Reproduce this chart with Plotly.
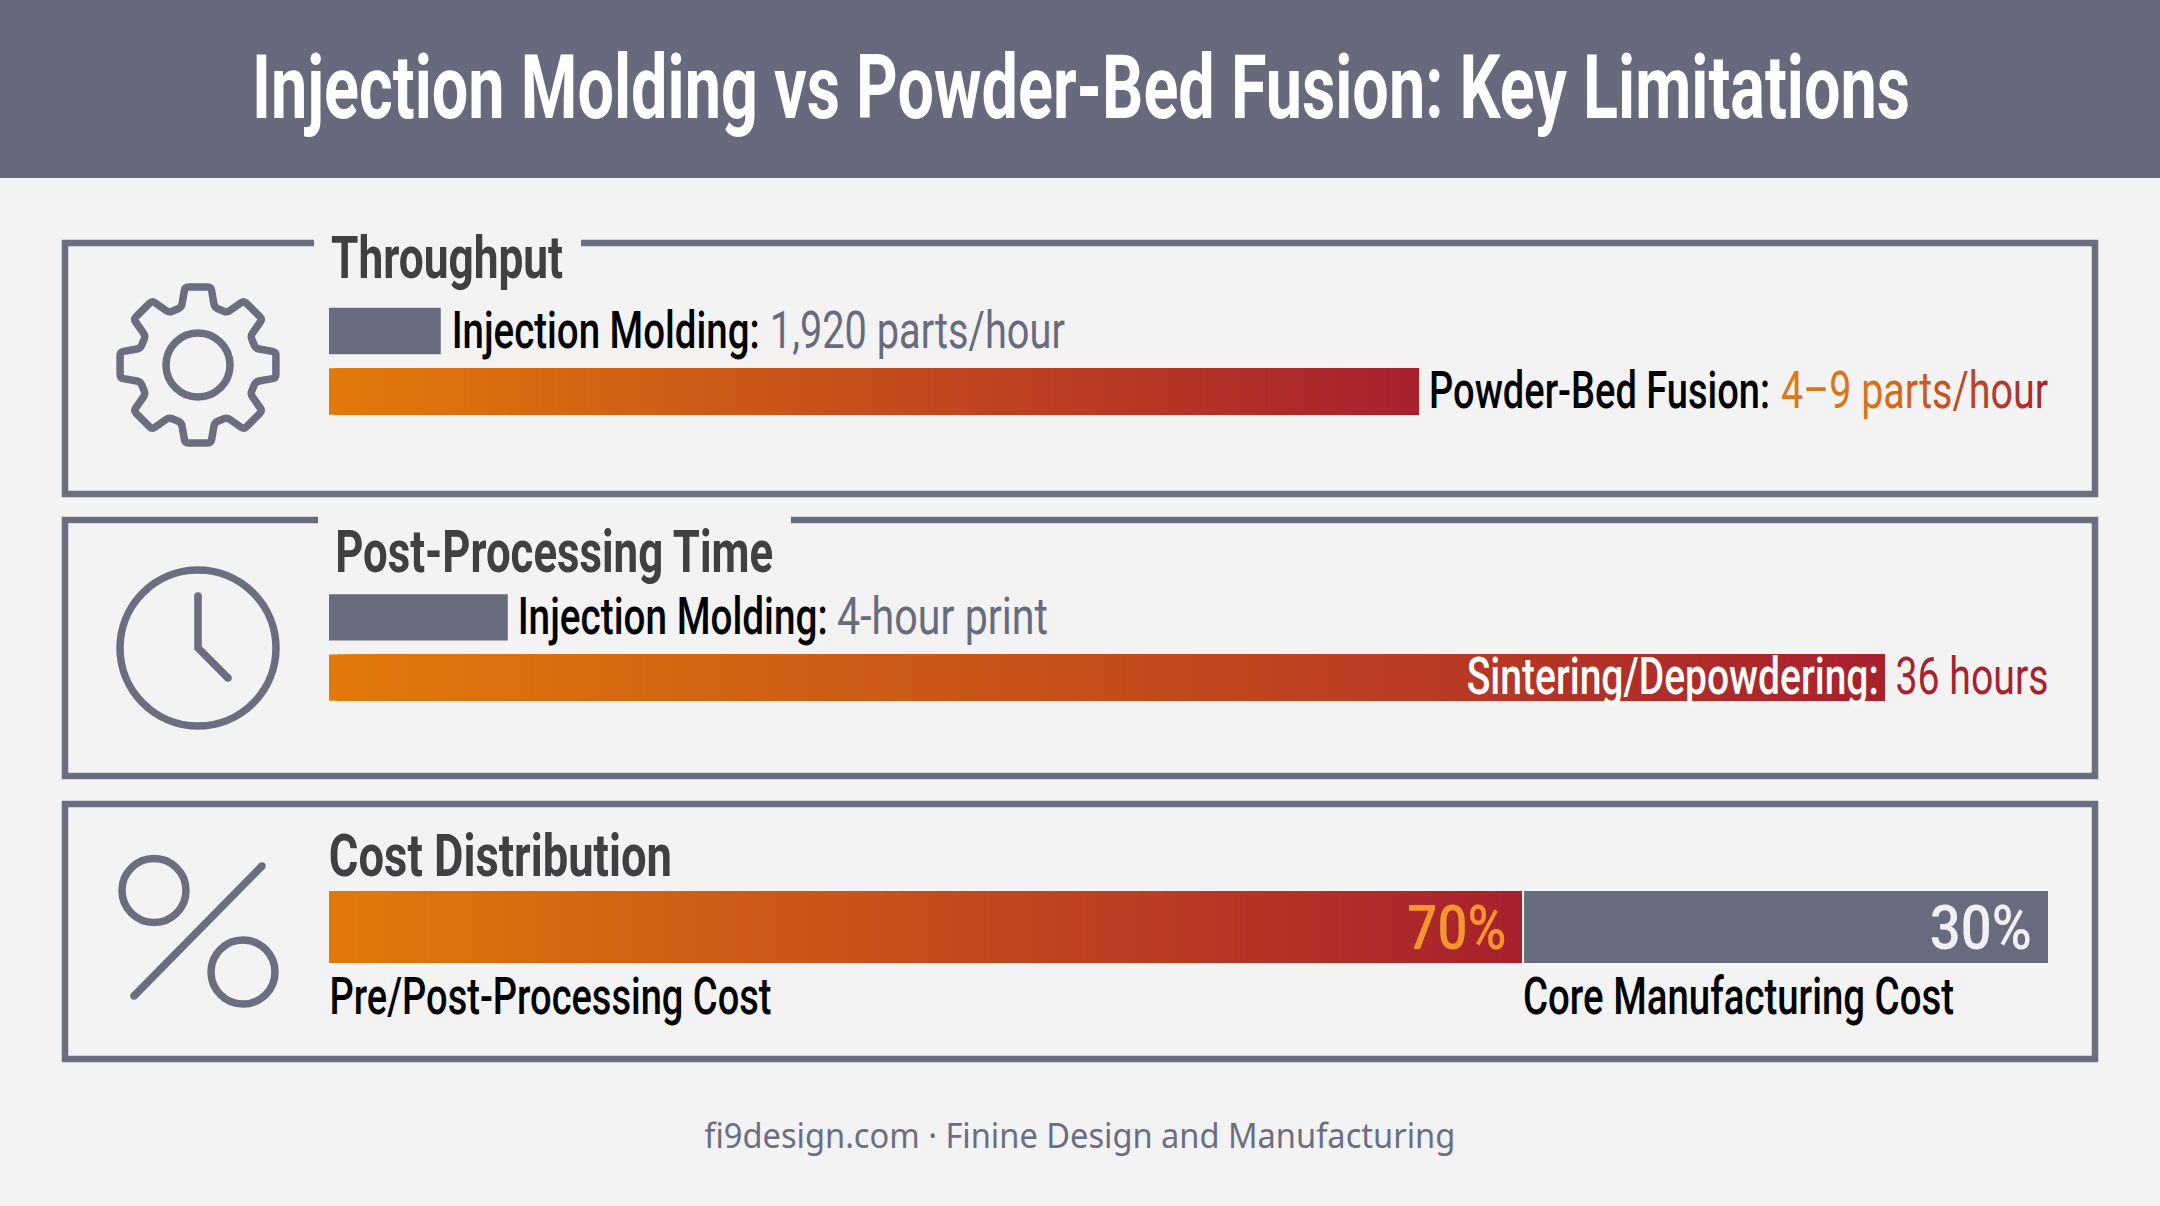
import json
import math
import numpy as np
import plotly.graph_objects as go

W, H = 2160, 1206
TITLE = "Injection Molding vs Powder-Bed Fusion: Key Limitations"
FOOTER = "fi9design.com · Finine Design and Manufacturing"

# Bar lengths, as a percentage of the common bar track
throughput_categories = ["Injection Molding", "Powder-Bed Fusion"]
throughput_lengths = [6.5, 63.4]
throughput_values = ["1,920 parts/hour", "4–9 parts/hour"]
post_categories = ["Injection Molding", "Sintering/Depowdering"]
post_lengths = [10.4, 90.5]
post_values = ["4-hour print", "36 hours"]
cost_categories = ["Pre/Post-Processing Cost", "Core Manufacturing Cost"]
cost_lengths = [69.35, 30.48]
cost_starts = [0, 69.52]
cost_labels = ["70%", "30%"]

BG = "#f3f3f4"
SLATE = "#686b7d"
FRAME = "#6b6e80"
RED = "#a8212e"
HEAD = "#404042"
FONT = "Roboto"
TRACK = (329, 2048)


def px(x):
    return x / W


def py(y):
    return 1 - y / H


def mix(t):
    a, b = (225, 122, 10), (167, 33, 46)
    return "#%02x%02x%02x" % tuple(round(p + (q - p) * t) for p, q in zip(a, b))


def gradient_bar(cat, length, xa, ya, width):
    """One bar, painted as overlapping strips that run from orange to red."""
    n = 200
    starts = np.linspace(0, length, n + 1)[:-1]
    return go.Bar(
        y=[cat] * n, x=length - starts, base=starts, orientation="h", width=width,
        marker=dict(color=[mix((i + 0.5) / n) for i in range(n)], line=dict(width=0)),
        xaxis=xa, yaxis=ya, hoverinfo="skip", showlegend=False,
    )


def solid_bar(cat, length, start, xa, ya, width):
    return go.Bar(
        y=[cat], x=[length], base=[start], orientation="h", width=width,
        marker=dict(color=SLATE, line=dict(width=0)),
        xaxis=xa, yaxis=ya, hoverinfo="skip", showlegend=False,
    )


BAR_W = 0.77
fig = go.Figure()
fig.add_trace(solid_bar(throughput_categories[0], throughput_lengths[0], 0, "x", "y", BAR_W))
fig.add_trace(gradient_bar(throughput_categories[1], throughput_lengths[1], "x", "y", BAR_W))
fig.add_trace(solid_bar(post_categories[0], post_lengths[0], 0, "x2", "y2", BAR_W))
fig.add_trace(gradient_bar(post_categories[1], post_lengths[1], "x2", "y2", BAR_W))
fig.add_trace(gradient_bar(cost_categories[0], cost_lengths[0], "x3", "y3", 1))
fig.add_trace(solid_bar(cost_categories[0], cost_lengths[1], cost_starts[1], "x3", "y3", 1))


def yaxis_for(top, bottom, cats, xname):
    n = len(cats)
    return dict(domain=[py(bottom), py(top)], range=[n - 0.5, -0.5], type="category",
                categoryorder="array", categoryarray=cats, visible=False, fixedrange=True, anchor=xname)


def xaxis_for(yname):
    return dict(domain=[px(TRACK[0]), px(TRACK[1])], range=[0, 100], visible=False,
                fixedrange=True, anchor=yname)


shapes = []


def sline(d, color=FRAME, width=6.5, fill=None):
    shapes.append(dict(type="path", path=d, xref="paper", yref="paper", layer="below",
                       line=dict(color=color, width=width), fillcolor=fill or "rgba(0,0,0,0)"))


def P(x, y):
    return f"{px(x):.6f},{py(y):.6f}"


def circle(cx, cy, r, width=7.5, fill=None, color=FRAME):
    shapes.append(dict(type="circle", xref="paper", yref="paper", layer="below",
                       x0=px(cx - r), x1=px(cx + r), y0=py(cy + r), y1=py(cy - r),
                       line=dict(color=color, width=width), fillcolor=fill or "rgba(0,0,0,0)"))


def stroke_round(pts, width=7.5):
    sline("M" + " L".join(P(*p) for p in pts), width=width)
    for x, y in (pts[0], pts[-1]):
        circle(x, y, width / 2, width=0, fill=FRAME)


def frame(top, bottom, gap):
    left, right = 65, 2095
    if gap:
        pts = [(gap[0], top), (left, top), (left, bottom), (right, bottom), (right, top), (gap[1], top)]
        d = "M" + " L".join(P(*p) for p in pts)
    else:
        pts = [(left, top), (left, bottom), (right, bottom), (right, top)]
        d = "M" + " L".join(P(*p) for p in pts) + " Z"
    sline(d)


def gear(cx, cy):
    pts = []
    for k in range(8):
        a = 45 * k
        for da, r in ((-16, 60), (-9.5, 79), (9.5, 79), (16, 60)):
            t = math.radians(a + da)
            pts.append((cx + r * math.sin(t), cy - r * math.cos(t)))
    n = len(pts)

    def toward(u, v, s=3.5):
        L = math.hypot(v[0] - u[0], v[1] - u[1])
        return (u[0] + (v[0] - u[0]) * s / L, u[1] + (v[1] - u[1]) * s / L)

    d = ""
    for i, p in enumerate(pts):
        a1, a2 = toward(p, pts[i - 1]), toward(p, pts[(i + 1) % n])
        d += ("M" if i == 0 else " L") + P(*a1) + " Q" + P(*p) + " " + P(*a2)
    sline(d + " Z", width=7.5)
    circle(cx, cy, 32)


shapes.append(dict(type="rect", xref="paper", yref="paper", layer="below", x0=0, x1=1,
                   y0=py(178), y1=1, fillcolor="#666a7c", line=dict(width=0)))
frame(243, 494, (314, 581))
frame(520, 776, (318, 791))
frame(804, 1059, None)
gear(198, 365)
circle(198, 648, 78)
stroke_round([(198, 596), (198, 648), (228, 678)])
circle(154, 890.5, 32)
circle(243, 972, 32)
stroke_round([(262, 866), (134, 996)])

annos = []
text_widths = []
text_stretch = []
NARROW = 0.68  # the reference face is condensed: set smaller, then stretch upward


def txt(left, right, baseline, s, size, color, font=FONT, weight=400, narrow=NARROW):
    """Text centred on the measured extent, fitted to it in the page script below."""
    real = size * narrow
    annos.append(dict(text=s, x=px((left + right) / 2), y=py(baseline - 0.34 * real),
                      xref="paper", yref="paper", xanchor="center", yanchor="middle",
                      showarrow=False, borderpad=0,
                      font=dict(family=font, size=real, color=color, weight=weight)))
    text_widths.append(right - left + 2)
    text_stretch.append(1 / narrow)


LAB, HD = 52, 60
txt(253, 1909, 118, TITLE, 89, "#ffffff", weight=700)
txt(332, 562, 278, "Throughput", HD, HEAD, weight=700)
txt(452, 758, 348, throughput_categories[0] + ":", LAB, "#000000", weight=500)
txt(771, 1064, 348, throughput_values[0], LAB, SLATE)
txt(1430, 1769, 408, throughput_categories[1] + ":", LAB, "#000000", weight=500)
GRADED_TEXT = len(annos)
txt(1782, 2047, 408, throughput_values[1], LAB, "#dc7a14")
txt(336, 772, 572, "Post-Processing Time", HD, HEAD, weight=700)
txt(518, 826, 634, post_categories[0] + ":", LAB, "#000000", weight=500)
txt(838, 1047, 634, post_values[0], LAB, SLATE)
txt(1467, 1877, 694, post_categories[1] + ":", LAB, "#ffffff", weight=500)
txt(1896, 2047, 694, post_values[1], LAB, RED)
txt(330, 671, 876, "Cost Distribution", HD, HEAD, weight=700)
txt(1408, 1505, 949, cost_labels[0], 61, "#f5962f", weight=500)
txt(1931, 2031, 949, cost_labels[1], 61, "#f0f0f5", weight=500)
txt(330, 770, 1014, cost_categories[0], LAB, "#000000", weight=500)
txt(1524, 1953, 1014, cost_categories[1], LAB, "#000000", weight=500)
txt(705, 1454, 1147, FOOTER, 34, FRAME, font="Noto Sans", narrow=1)

fig.update_layout(
    width=W, height=H, autosize=False, margin=dict(l=0, r=0, t=0, b=0, pad=0),
    paper_bgcolor=BG, plot_bgcolor="rgba(0,0,0,0)", barmode="overlay", showlegend=False,
    xaxis=xaxis_for("y"), yaxis=yaxis_for(300.75, 421.75, throughput_categories, "x"),
    xaxis2=xaxis_for("y2"), yaxis2=yaxis_for(587.25, 707.75, post_categories, "x2"),
    xaxis3=xaxis_for("y3"), yaxis3=yaxis_for(891, 963, cost_categories[:1], "x3"),
    shapes=shapes, annotations=annos,
)

post = (
    "document.body.style.margin='0';document.documentElement.style.overflow='hidden';"
    "var ws=" + json.dumps(text_widths) + ",ks=" + json.dumps(text_stretch) + ",gi=" + str(GRADED_TEXT) + ";"
    "document.querySelectorAll('text.annotation-text').forEach(function(t,i){"
    "t.setAttribute('textLength',ws[i]);t.setAttribute('lengthAdjust','spacingAndGlyphs');"
    "var y=parseFloat(t.getAttribute('y'))||0,k=ks[i];"
    "t.setAttribute('transform','translate(0,'+(y*(1-k))+') scale(1,'+k+')');"
    "if(i===gi){var n='http://www.w3.org/2000/svg',g=document.createElementNS(n,'linearGradient');"
    "g.setAttribute('id','textgrad');"
    "[['0','#dc7a14'],['0.35','#d8731a'],['0.7','#bd4726'],['1','#a8242e']].forEach(function(s){"
    "var e=document.createElementNS(n,'stop');e.setAttribute('offset',s[0]);e.setAttribute('stop-color',s[1]);g.appendChild(e);});"
    "t.ownerSVGElement.querySelector('defs').appendChild(g);t.style.fill='url(#textgrad)';}"
    "});"
)
fig.write_html("out.html", config=dict(displayModeBar=False), post_script=post)
